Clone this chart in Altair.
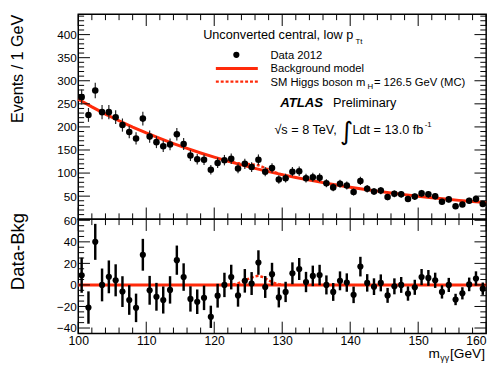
import altair as alt
import pandas as pd
import numpy as np

# ---------------- data ----------------
mass = [100.5 + i for i in range(60)]  # bin centres, 1 GeV bins
events = [265, 226, 279, 232, 232, 221, 204, 189, 175, 218,
          179, 167, 158, 162, 184, 163, 138, 130, 129, 107,
          122, 128, 131, 110, 120, 113, 129, 103, 111, 86,
          89, 103, 104, 89, 91, 90, 78, 69, 77, 73,
          59, 83, 66, 60, 62, 48, 55, 54, 44, 49,
          56, 54, 50, 38, 43, 28, 32, 40, 44, 33]
resid = [9, -21, 40, 0, 7.5, 4.3, -6.2, -14, -21.3, 28,
         -5, -11, -14, -4.6, 23, 7.3, -13, -15.6, -12, -29.6,
         -10, 0, 7.3, -9.7, 3.8, 1.3, 20.8, -1.9, 10, -11.6,
         -6.5, 10.8, 14.8, 2.7, 8.4, 9.2, 0, -6.5, 3.8, 2.2,
         -9.2, 17, 1.9, -1.6, 1.9, -9.7, -1.3, 0, -8, -2.2,
         7.3, 6.5, 4.3, -6.5, 0, -13.5, -7.8, 0.5, 6, -3.5]
bkg_m = list(range(100, 161, 2))
bkg_y = [260, 243.4, 227.8, 213.3, 199.6, 186.9, 175.0, 163.8, 153.3, 143.5,
         134.4, 125.8, 117.7, 110.2, 103.2, 96.6, 90.4, 84.6, 79.2, 74.2,
         69.4, 65.0, 60.8, 56.9, 53.3, 49.9, 46.7, 43.7, 40.9, 38.3, 35.9]
sig_m = [122 + 0.5 * i for i in range(17)]
sig_top = [125.8, 124.0, 122.4, 121.1, 120.5, 120.0, 119.5, 118.9, 118.2,
           116.9, 114.2, 111.0, 107.4, 104.2, 101.3, 98.8, 96.8]
sig_res = [0, 0.3, 0.7, 1.5, 2.8, 4.2, 5.6, 6.9, 8.0, 8.5, 7.6, 6.2, 4.2,
           2.8, 1.5, 0.7, 0.2]
zero_m = [100, 160]
zero_y = [0, 0]

x_major = [100, 110, 120, 130, 140, 150, 160]
x_minor = [v for v in range(102, 160, 2) if v % 10 != 0]
yt_major = [50, 100, 150, 200, 250, 300, 350, 400]
yt_minor = [v for v in range(10, 441, 10) if v % 50 != 0]
yb_major = [-40, -20, 0, 20, 40, 60]
yb_minor = [v for v in range(-45, 61, 5) if v % 20 != 0]

# ---------------- styling ----------------
W, HT, HB = 418, 210, 117
RED = "#ff2a0a"
FONT = "Liberation Sans"

xs = alt.Scale(domain=[100, 160], nice=False, zero=False)
yts = alt.Scale(domain=[0, 444], nice=False, zero=False)
ybs = alt.Scale(domain=[-45, 61], nice=False, zero=False)

top_y_axis = alt.Axis(values=yt_major, title="Events / 1 GeV", titleFont=FONT,
                      titleFontSize=16.5, titleFontWeight="normal", titleColor="black",
                      titleAngle=270, titleAlign="right", titleBaseline="middle",
                      titleX=-62, titleY=0, labelFont=FONT, labelFontSize=12,
                      labelColor="black", labelPadding=2, ticks=False, domain=False,
                      grid=False)
bot_y_axis = alt.Axis(values=yb_major, title="Data-Bkg", titleFont=FONT,
                      titleFontSize=19, titleFontWeight="normal", titleColor="black",
                      titleAngle=270, titleAlign="right", titleBaseline="middle",
                      titleX=-62, titleY=-7, labelFont=FONT, labelFontSize=12,
                      labelColor="black", labelPadding=2, ticks=False, domain=False,
                      grid=False)
bot_x_axis = alt.Axis(values=x_major, title=None, labelFont=FONT, labelFontSize=12.5,
                      labelColor="black", labelPadding=1, ticks=False, domain=False,
                      grid=False, labelFlush=False, labelOverlap=False, format="d",
                      labelAlign=alt.condition("datum.value == 160",
                                               alt.value("right"), alt.value("center")))

df = pd.DataFrame({"m": mass, "n": events, "r": resid})
df["err"] = np.sqrt(df["n"])
df["lo"] = df["n"] - df["err"]
df["hi"] = df["n"] + df["err"]
df["rlo"] = df["r"] - df["err"]
df["rhi"] = df["r"] + df["err"]
bkg = pd.DataFrame({"m": bkg_m, "y": bkg_y})
sig = pd.DataFrame({"m": sig_m, "t": sig_top, "r": sig_res})
zero = pd.DataFrame({"m": zero_m, "y": zero_y})


def ticks_y(vals, scale, axis, L):
    d = pd.DataFrame({"v": vals})
    b = alt.Chart(d).mark_rule(color="black", strokeWidth=1)
    yy = alt.Y("v:Q", scale=scale, axis=axis)
    return [b.encode(y=yy, x=alt.value(0), x2=alt.value(L)),
            b.encode(y=yy, x=alt.value(W - L), x2=alt.value(W))]


def ticks_x(vals, H, axis, L):
    d = pd.DataFrame({"v": vals})
    b = alt.Chart(d).mark_rule(color="black", strokeWidth=1)
    xx = alt.X("v:Q", scale=xs, axis=axis)
    return [b.encode(x=xx, y=alt.value(0), y2=alt.value(L)),
            b.encode(x=xx, y=alt.value(H - L), y2=alt.value(H))]


def txt(s, x, y, size=12.5, font=FONT, **kw):
    return alt.Chart(pd.DataFrame({"t": [s]})).mark_text(
        align="left", baseline="alphabetic", font=font, fontSize=size,
        color="black", **kw
    ).encode(text="t:N", x=alt.value(x), y=alt.value(y))


# ---------------- top panel ----------------
def XT(f):
    return alt.X(f, scale=xs, axis=None)


def YT(f):
    return alt.Y(f, scale=yts, axis=top_y_axis)


bkg_line = alt.Chart(bkg).mark_line(color=RED, strokeWidth=3).encode(
    x=XT("m:Q"), y=YT("y:Q"))
sig_line = alt.Chart(sig).mark_line(color=RED, strokeWidth=2.5, strokeDash=[3, 2]).encode(
    x=XT("m:Q"), y=YT("t:Q"))
top_err = alt.Chart(df).mark_rule(color="#222222", strokeWidth=1.2).encode(
    x=XT("m:Q"), y=YT("lo:Q"), y2="hi:Q")
top_pts = alt.Chart(df).mark_circle(color="black", size=45, opacity=1).encode(
    x=XT("m:Q"), y=YT("n:Q"))

legend_dot = alt.Chart(pd.DataFrame({"a": [0]})).mark_circle(color="black", size=40, opacity=1).encode(
    x=alt.value(162), y=alt.value(41.5))
legend_bkg = alt.Chart(pd.DataFrame({"a": [0]})).mark_rule(color=RED, strokeWidth=3).encode(
    x=alt.value(141), x2=alt.value(184), y=alt.value(55.5))
legend_sig = alt.Chart(pd.DataFrame({"a": [0]})).mark_rule(color=RED, strokeWidth=2.5, strokeDash=[3, 2]).encode(
    x=alt.value(141), x2=alt.value(184), y=alt.value(69))

texts_top = [
    txt("Unconverted central, low p", 128, 25, 13),
    txt("Tt", 284, 30, 8),
    txt("Data 2012", 197, 45.5, 11.5),
    txt("Background model", 197, 59.5, 11.5),
    txt("SM Higgs boson m", 197, 73, 11.5),
    txt("H", 296.5, 77, 8),
    txt("= 126.5 GeV (MC)", 303, 73, 11.5),
    txt("ATLAS", 207, 95, 13.5, fontWeight="bold", fontStyle="italic"),
    txt("Preliminary", 261, 95, 13),
    txt("\u221as = 8 TeV,", 201, 122.5, 13),
    txt("\u222b", 268, 129, 26, font="DejaVu Sans"),
    txt("Ldt = 13.0 fb", 281, 122.5, 13),
    txt("-1", 355, 115, 8),
]

top = alt.layer(
    bkg_line,
    *ticks_y(yt_major, yts, top_y_axis, 12), *ticks_y(yt_minor, yts, top_y_axis, 6),
    *ticks_x(x_major, HT, None, 12), *ticks_x(x_minor, HT, None, 6),
    sig_line, top_err, top_pts,
    legend_dot, legend_bkg, legend_sig, *texts_top
).properties(width=W, height=HT)

# ---------------- bottom panel ----------------
def XB(f):
    return alt.X(f, scale=xs, axis=bot_x_axis)


def YB(f):
    return alt.Y(f, scale=ybs, axis=bot_y_axis)


zero_line = alt.Chart(zero).mark_line(color=RED, strokeWidth=3).encode(
    x=XB("m:Q"), y=YB("y:Q"))
sig_res_line = alt.Chart(sig).mark_line(color=RED, strokeWidth=2.5, strokeDash=[3, 2]).encode(
    x=XB("m:Q"), y=YB("r:Q"))
bot_err = alt.Chart(df).mark_rule(color="black", strokeWidth=2.5).encode(
    x=XB("m:Q"), y=YB("rlo:Q"), y2="rhi:Q")
bot_pts = alt.Chart(df).mark_circle(color="black", size=40, opacity=1).encode(
    x=XB("m:Q"), y=YB("r:Q"))

texts_bot = [
    txt("m", 359, HB + 25.5, 14),
    txt("\u03b3\u03b3", 371, HB + 28, 9),
    txt("[GeV]", 381, HB + 25.5, 14),
]

bottom = alt.layer(
    zero_line,
    *ticks_y(yb_major, ybs, bot_y_axis, 12), *ticks_y(yb_minor, ybs, bot_y_axis, 6),
    *ticks_x(x_major, HB, bot_x_axis, 12), *ticks_x(x_minor, HB, bot_x_axis, 6),
    sig_res_line, bot_err, bot_pts, *texts_bot
).properties(width=W, height=HB)

chart = alt.vconcat(top, bottom, spacing=0, bounds="flush", padding=0).configure(
    background="white", padding=0
).configure_view(stroke="black", strokeWidth=1.5)

chart.save("out.html", embed_options={"renderer": "svg", "actions": False})
